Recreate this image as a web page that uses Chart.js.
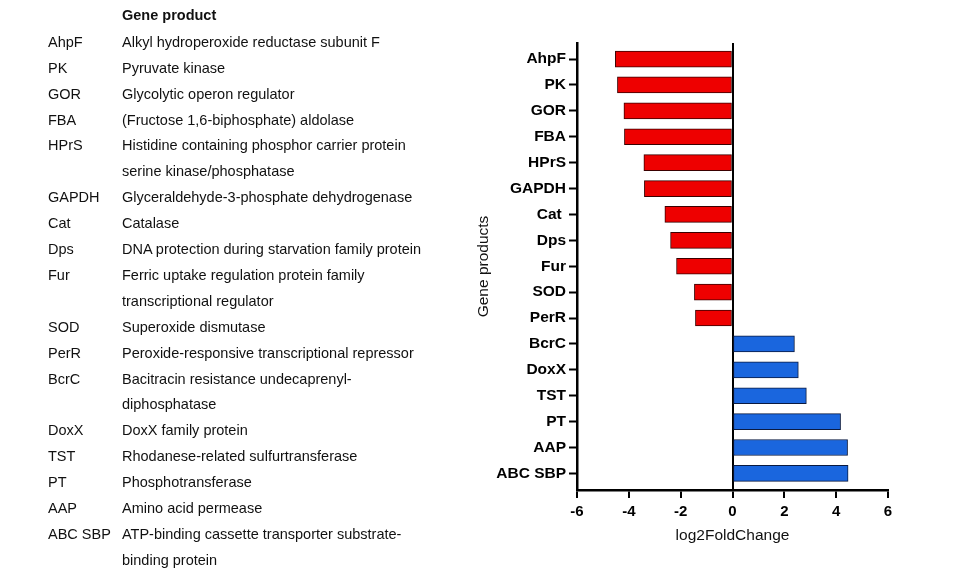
<!DOCTYPE html>
<html>
<head>
<meta charset="utf-8">
<script src="https://cdn.jsdelivr.net/npm/chart.js@4.4.1/dist/chart.umd.min.js"></script>
<style>
  html, body { margin: 0; padding: 0; background: #fff; }
  #wrap { position: relative; width: 953px; height: 581px; overflow: hidden; }
  #chart { position: absolute; left: 0; top: 0; }
  #table { position: absolute; left: 0; top: 0; width: 470px; height: 581px;
           font-family: 'Liberation Sans', Arial, sans-serif; font-size: 14.5px; color: #111; }
  .row { position: absolute; left: 0; line-height: 25.9px; }
  .abbr { position: absolute; left: 48px; white-space: nowrap; }
  .desc { position: absolute; left: 122px; white-space: pre; }
  .hdr { position: absolute; left: 122px; top: 2.5px; line-height: 25.9px; font-weight: bold; }
</style>
</head>
<body>
<div id="wrap">
  <canvas id="chart" width="953" height="581"></canvas>
  <div id="table"></div>
</div>
<script>
// ---- Data ----
const categories = ["AhpF", "PK", "GOR", "FBA", "HPrS", "GAPDH", "Cat ", "Dps", "Fur", "SOD", "PerR",
                    "BcrC", "DoxX", "TST", "PT", "AAP", "ABC SBP"];
const log2FoldChange = [-4.52, -4.44, -4.19, -4.17, -3.42, -3.40, -2.61, -2.39, -2.16, -1.47, -1.43,
                        2.39, 2.54, 2.85, 4.17, 4.44, 4.46];
const xTickValues = [-6, -4, -2, 0, 2, 4, 6];

const tableHeader = "Gene product";
const tableAbbr = ["AhpF", "PK", "GOR", "FBA", "HPrS", "GAPDH", "Cat", "Dps", "Fur", "SOD", "PerR",
                   "BcrC", "DoxX", "TST", "PT", "AAP", "ABC SBP"];
const tableDesc = [
  "Alkyl hydroperoxide reductase subunit F",
  "Pyruvate kinase",
  "Glycolytic operon regulator",
  "(Fructose 1,6-biphosphate) aldolase",
  "Histidine containing phosphor carrier protein\nserine kinase/phosphatase",
  "Glyceraldehyde-3-phosphate dehydrogenase",
  "Catalase",
  "DNA protection during starvation family protein",
  "Ferric uptake regulation protein family\ntranscriptional regulator",
  "Superoxide dismutase",
  "Peroxide-responsive transcriptional repressor",
  "Bacitracin resistance undecaprenyl-\ndiphosphatase",
  "DoxX family protein",
  "Rhodanese-related sulfurtransferase",
  "Phosphotransferase",
  "Amino acid permease",
  "ATP-binding cassette transporter substrate-\nbinding protein"
];

// ---- Left table (real text) ----
(function buildTable() {
  const t = document.getElementById('table');
  const h = document.createElement('div');
  h.className = 'hdr';
  h.textContent = tableHeader;
  t.appendChild(h);
  const step = 25.9;
  let line = 0;
  const top0 = 29.8;
  tableAbbr.forEach((a, i) => {
    const row = document.createElement('div');
    row.className = 'row';
    row.style.top = (top0 + line * step) + 'px';
    const ab = document.createElement('div');
    ab.className = 'abbr';
    ab.textContent = a;
    const de = document.createElement('div');
    de.className = 'desc';
    de.textContent = tableDesc[i];
    row.appendChild(ab);
    row.appendChild(de);
    t.appendChild(row);
    line += tableDesc[i].split('\n').length;
  });
})();

// ---- Chart ----
const RED = '#EE0000';
const BLUE = '#1A66DE';
const FONT = "'Liberation Sans', Arial, sans-serif";

new Chart(document.getElementById('chart'), {
  type: 'bar',
  data: {
    datasets: [{
      data: log2FoldChange.map((v, i) => ({ x: v, y: i })),
      backgroundColor: ctx => (ctx.raw && ctx.raw.x < 0 ? RED : BLUE),
      borderColor: ctx => (ctx.raw && ctx.raw.x < 0 ? '#3a0000' : '#0a1a40'),
      borderWidth: 1,
      borderSkipped: false,
      barThickness: 16
    }]
  },
  options: {
    indexAxis: 'y',
    responsive: false,
    animation: false,
    layout: { padding: { left: 470, top: 43, right: 65, bottom: 32 } },
    plugins: { legend: { display: false }, tooltip: { enabled: false } },
    scales: {
      x: {
        type: 'linear',
        min: -6, max: 6,
        offset: false,
        afterBuildTicks: s => { s.ticks = xTickValues.map(v => ({ value: v })); },
        afterFit: s => { s.height = 59; },
        ticks: {
          color: '#000',
          padding: 5,
          font: { family: FONT, size: 15, weight: 'bold' },
          callback: v => String(v)
        },
        grid: {
          offset: false,
          drawOnChartArea: true,
          color: ctx => (ctx.tick && ctx.tick.value === 0 ? '#000' : 'rgba(0,0,0,0)'),
          lineWidth: 2,
          tickColor: '#000',
          tickWidth: 2,
          tickLength: 8
        },
        border: { display: true, color: '#000', width: 2.5 },
        title: {
          display: true,
          text: 'log2FoldChange',
          color: '#111',
          font: { family: FONT, size: 15.5, weight: 'normal' },
          padding: 4
        }
      },
      y: {
        type: 'linear',
        reverse: true,
        offset: false,
        min: -0.62, max: 16.64,
        afterBuildTicks: s => { s.ticks = categories.map((c, i) => ({ value: i })); },
        afterFit: s => { s.width = 107; },
        ticks: {
          color: '#000',
          padding: 3,
          font: { family: FONT, size: 15.5, weight: 'bold' },
          callback: v => categories[v]
        },
        grid: {
          offset: false,
          drawOnChartArea: false,
          tickColor: '#000',
          tickWidth: 2,
          tickLength: 8
        },
        border: { display: true, color: '#000', width: 2.5 },
        title: {
          display: true,
          text: 'Gene products',
          color: '#111',
          font: { family: FONT, size: 15.5, weight: 'normal' },
          padding: 4
        }
      }
    }
  }
});
</script>
</body>
</html>
